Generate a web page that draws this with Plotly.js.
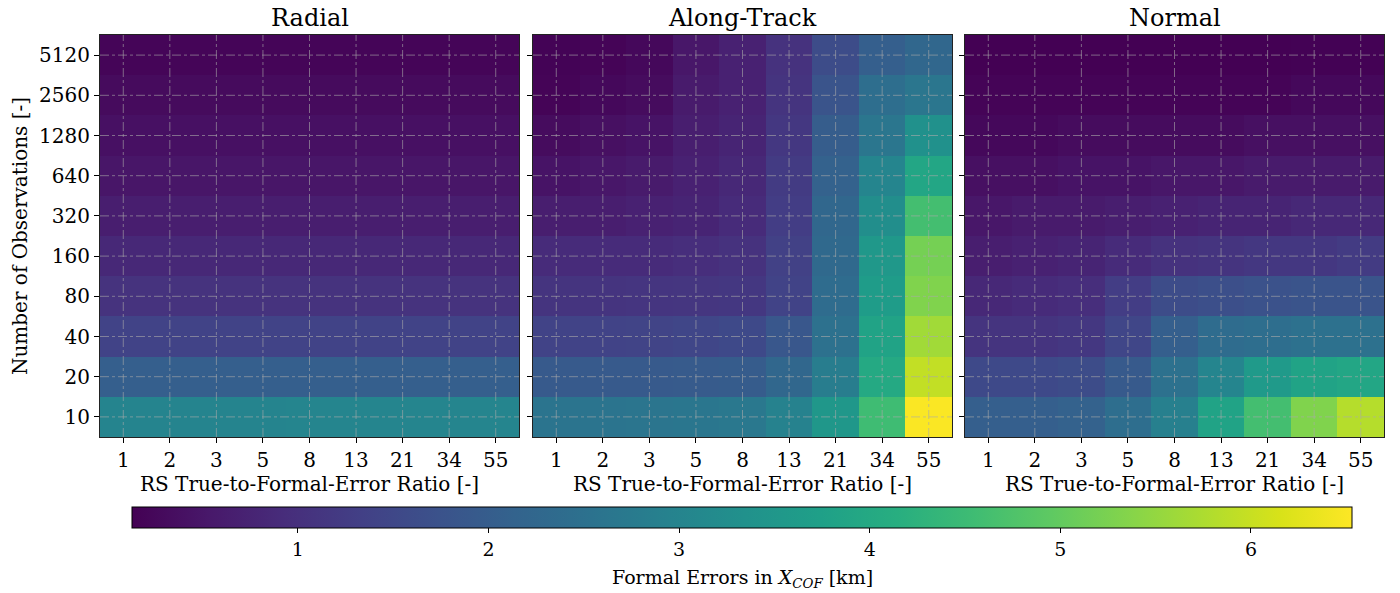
<!DOCTYPE html>
<html>
<head>
<meta charset="utf-8">
<script src="https://cdn.plot.ly/plotly-3.0.1.min.js"></script>
<style>html,body{margin:0;padding:0;background:#fff;}#chart{width:1400px;height:593px;}</style>
</head>
<body>
<div id="chart"></div>
<script>
// Categories
const ratioLabels = ['1','2','3','5','8','13','21','34','55'];
const obsLabels = ['10','20','40','80','160','320','640','1280','2560','5120'];
const panelTitles = ['Radial','Along-Track','Normal'];

// Formal errors [km]; rows follow obsLabels (10 -> 5120), columns follow ratioLabels
const radial = [
  [3.00,3.00,3.00,3.00,3.01,3.01,3.01,3.01,3.01],
  [2.05,2.05,2.05,2.05,2.05,2.05,2.05,2.05,2.05],
  [1.41,1.41,1.41,1.41,1.41,1.41,1.41,1.41,1.41],
  [1.05,1.05,1.05,1.05,1.05,1.05,1.05,1.05,1.05],
  [0.83,0.83,0.83,0.83,0.83,0.83,0.83,0.83,0.83],
  [0.64,0.64,0.64,0.64,0.64,0.64,0.64,0.64,0.64],
  [0.50,0.50,0.50,0.50,0.50,0.50,0.50,0.50,0.50],
  [0.40,0.40,0.40,0.40,0.40,0.40,0.40,0.40,0.40],
  [0.30,0.30,0.30,0.30,0.30,0.30,0.30,0.30,0.30],
  [0.20,0.20,0.20,0.20,0.20,0.20,0.20,0.20,0.20]
];
const alongTrack = [
  [2.60,2.60,2.62,2.65,2.70,2.95,3.50,4.55,6.50],
  [1.92,1.92,1.93,1.95,1.97,2.24,2.82,4.00,5.95],
  [1.41,1.41,1.42,1.47,1.54,1.86,2.50,3.84,5.63],
  [1.09,1.09,1.10,1.12,1.15,1.41,2.37,3.65,5.31],
  [0.90,0.90,0.90,0.96,1.03,1.35,2.31,3.52,5.19],
  [0.64,0.64,0.71,0.77,0.90,1.28,2.24,3.27,4.61],
  [0.45,0.51,0.58,0.71,0.83,1.22,2.11,3.01,3.91],
  [0.32,0.39,0.45,0.64,0.77,1.15,1.99,2.63,3.33],
  [0.19,0.26,0.32,0.58,0.71,1.09,1.79,2.43,2.63],
  [0.16,0.19,0.26,0.51,0.71,1.03,1.60,2.05,2.24]
];
const normal = [
  [2.05,2.05,2.11,2.43,2.88,3.84,4.61,5.31,5.83],
  [1.54,1.54,1.60,1.92,2.50,3.01,3.59,3.84,3.91],
  [1.09,1.09,1.15,1.47,2.05,2.37,2.43,2.50,2.50],
  [0.83,0.90,0.96,1.28,1.60,1.67,1.73,1.79,1.79],
  [0.64,0.71,0.77,0.90,1.03,1.09,1.15,1.15,1.22],
  [0.51,0.58,0.58,0.64,0.71,0.77,0.77,0.83,0.83],
  [0.39,0.39,0.45,0.45,0.51,0.51,0.58,0.58,0.58],
  [0.26,0.26,0.32,0.32,0.32,0.32,0.39,0.39,0.39],
  [0.19,0.19,0.19,0.19,0.19,0.19,0.19,0.26,0.26],
  [0.13,0.13,0.13,0.13,0.13,0.13,0.13,0.15,0.15]
];
const colorTicks = [1,2,3,4,5,6];

const FONT = 'DejaVu Serif, serif';
const W = 1400, H = 593;
const panelsX = [[100,519],[533,952],[965,1384]];
const plotTop = 35, plotBottom = 437;
const yDom = [1 - plotBottom/H, 1 - plotTop/H];

const datasets = [radial, alongTrack, normal];
const traces = datasets.map((z, i) => ({
  type: 'heatmap',
  x: ratioLabels,
  y: obsLabels,
  z: z,
  coloraxis: 'coloraxis',
  xaxis: i === 0 ? 'x' : 'x' + (i + 1),
  yaxis: i === 0 ? 'y' : 'y' + (i + 1),
  hovertemplate: 'ratio %{x}<br>obs %{y}<br>%{z:.2f} km<extra></extra>'
}));

const layout = {
  width: W, height: H,
  margin: {l: 0, r: 0, t: 0, b: 0},
  paper_bgcolor: '#fff',
  plot_bgcolor: '#fff',
  font: {family: FONT, color: '#000', size: 18},
  showlegend: false,
  coloraxis: {
    colorscale: 'Viridis',
    cmin: 0.13, cmax: 6.53,
    colorbar: {
      orientation: 'h',
      x: (132 + 1352) / 2 / W, xanchor: 'center',
      y: 1 - 507 / H, yanchor: 'top',
      len: 1220 / W, lenmode: 'fraction',
      thickness: 21, thicknessmode: 'pixels',
      xpad: 0, ypad: 0,
      outlinewidth: 1, outlinecolor: '#000',
      ticks: 'outside', ticklen: 5, tickcolor: '#000',
      tickvals: colorTicks,
      ticktext: colorTicks.map(String),
      tickfont: {family: FONT, size: 19}
    }
  },
  annotations: [{
    text: 'Formal Errors in <i>X</i><sub><i>COF</i></sub> [km]',
    xref: 'paper', yref: 'paper',
    x: (132 + 1352) / 2 / W, y: 1 - 578 / H,
    xanchor: 'center', yanchor: 'middle', showarrow: false,
    font: {family: FONT, size: 19}
  }],
  shapes: []
};

const gridLine = {color: 'rgba(170,170,170,0.6)', width: 1, dash: 'dashdot'};

panelsX.forEach((px, i) => {
  const xk = i === 0 ? 'xaxis' : 'xaxis' + (i + 1);
  const yk = i === 0 ? 'yaxis' : 'yaxis' + (i + 1);
  const xr = i === 0 ? 'x' : 'x' + (i + 1);
  const yr = i === 0 ? 'y' : 'y' + (i + 1);
  layout[xk] = {
    domain: [px[0] / W, px[1] / W],
    anchor: yr,
    type: 'category',
    categoryorder: 'array', categoryarray: ratioLabels,
    range: [-0.5, ratioLabels.length - 0.5],
    showgrid: false, zeroline: false,
    showline: true, mirror: true, linecolor: '#222', linewidth: 1,
    ticks: 'outside', ticklen: 5, tickcolor: '#000',
    tickfont: {family: FONT, size: 20},
    title: {text: 'RS True-to-Formal-Error Ratio [-]', font: {family: FONT, size: 20}, standoff: 4}
  };
  layout[yk] = {
    domain: yDom,
    anchor: xr,
    type: 'category',
    categoryorder: 'array', categoryarray: obsLabels,
    range: [-0.5, obsLabels.length - 0.5],
    showgrid: false, zeroline: false,
    showline: true, mirror: true, linecolor: '#222', linewidth: 1,
    ticks: 'outside', ticklen: 5, tickcolor: '#000',
    showticklabels: i === 0,
    tickfont: {family: FONT, size: 20},
    title: i === 0 ? {text: 'Number of Observations [-]', font: {family: FONT, size: 20}, standoff: 6} : {text: ''}
  };
  layout.annotations.push({
    text: panelTitles[i], xref: 'paper', yref: 'paper',
    x: (px[0] + px[1]) / 2 / W, y: 1 - 18 / H,
    xanchor: 'center', yanchor: 'middle', showarrow: false,
    font: {family: FONT, size: 24}
  });
  // grid lines at each category position (index on the category axis)
  ratioLabels.forEach((c, k) => {
    layout.shapes.push({type: 'line', xref: xr, yref: yr + ' domain', x0: k, x1: k, y0: 0, y1: 1, line: gridLine, layer: 'above'});
  });
  obsLabels.forEach((c, k) => {
    layout.shapes.push({type: 'line', xref: xr + ' domain', yref: yr, x0: 0, x1: 1, y0: k, y1: k, line: gridLine, layer: 'above'});
  });
});

Plotly.newPlot('chart', traces, layout, {displayModeBar: false, responsive: false});
</script>
</body>
</html>
